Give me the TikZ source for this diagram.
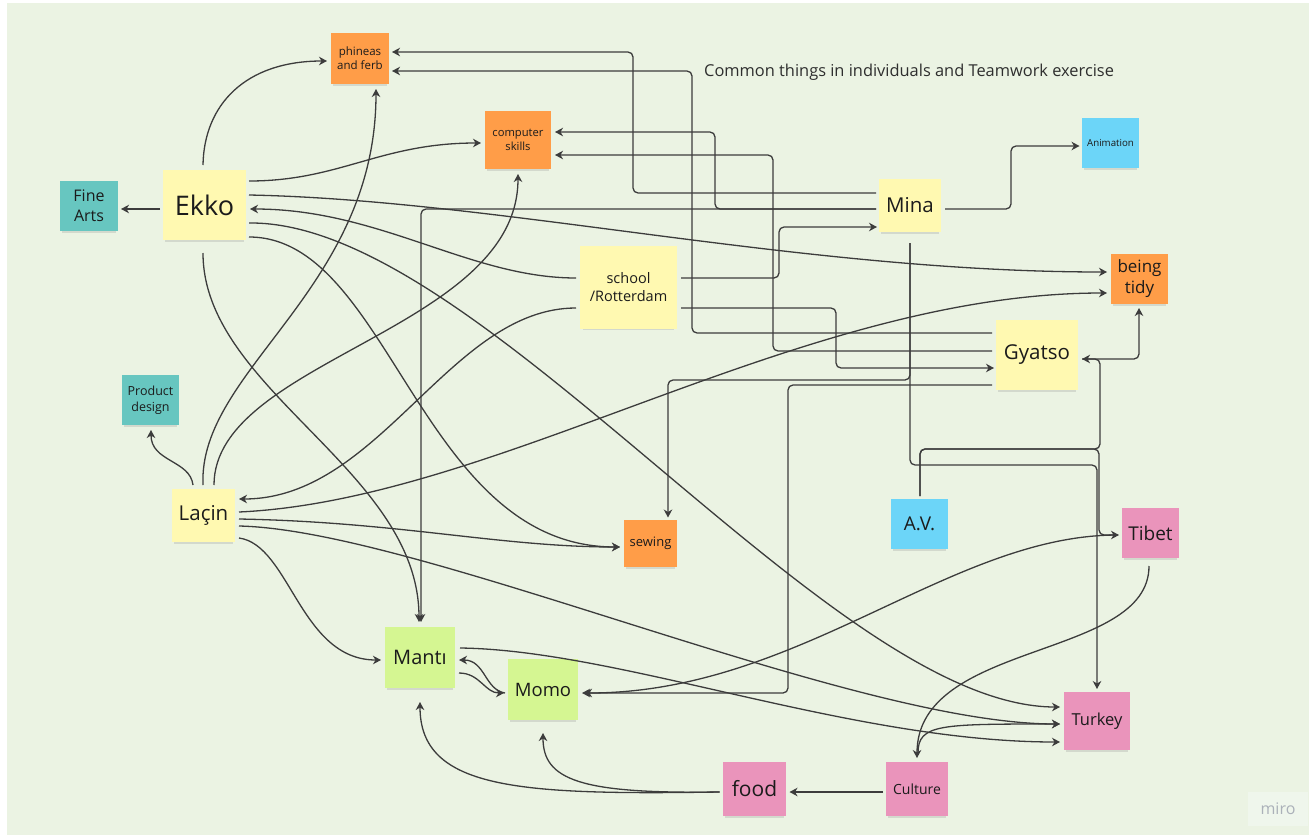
\documentclass[tikz,border=0pt]{standalone}
\usepackage{fontspec}
\setmainfont{Open Sans}
\usetikzlibrary{arrows.meta,calc,shadows}
\definecolor{bg}{HTML}{EBF3E3}
\definecolor{yel}{HTML}{FFF9B1}
\definecolor{ora}{HTML}{FF9D48}
\definecolor{teal}{HTML}{67C6C0}
\definecolor{blu}{HTML}{6CD5F8}
\definecolor{pnk}{HTML}{EA94BB}
\definecolor{lgr}{HTML}{D5F692}
\definecolor{txt}{HTML}{1B1B1B}
\definecolor{linec}{HTML}{3C3C3C}
\definecolor{titlec}{HTML}{2E2E2E}
\definecolor{logobg}{HTML}{EFF6EC}
\definecolor{logoc}{HTML}{ABB1B9}
\newcommand\fz[2]{\fontsize{#1}{#2}\selectfont}
\begin{document}
\begin{tikzpicture}[x=1pt,y=-1pt,
  note/.style={inner sep=0pt, outer sep=0pt, align=center, text=txt,
    drop shadow={shadow xshift=0pt, shadow yshift=-4pt, shadow scale=0.94, opacity=0.22}},
  con/.style={draw=linec, line width=1.3pt, -{Stealth[length=8pt,width=8.5pt,inset=2.5pt]}, rounded corners=5pt}]
\useasboundingbox (0,0) rectangle (1314,838);
\fill[white] (0,0) rectangle (1314,838);
\fill[bg] (7,3) rectangle (1309,835);

% notes
\node[note, fill=ora, minimum width=58, minimum height=51, font=\fz{11.5}{14}] (pf) at (360,58.5) {phineas\\and ferb};
\node[note, fill=ora, minimum width=66, minimum height=58, font=\fz{11.2}{13.5}] (cs) at (518,140) {computer\\skills};
\node[note, fill=yel, minimum width=83, minimum height=70, font=\fz{27}{32}] (ekko) at (204.5,205) {Ekko};
\node[note, fill=teal, minimum width=58, minimum height=50, font=\fz{16}{20}] (fine) at (89,206) {Fine\\Arts};
\node[note, fill=blu, minimum width=57, minimum height=50, font=\fz{9.7}{12}] (anim) at (1110.5,143) {Animation};
\node[note, fill=yel, minimum width=62, minimum height=53, font=\fz{20.5}{24}] (mina) at (910,205.5) {Mina};
\node[note, fill=yel, minimum width=97, minimum height=83, font=\fz{14.5}{18}] (school) at (628.5,287.5) {school\\/Rotterdam};
\node[note, fill=ora, minimum width=57, minimum height=50, font=\fz{17}{21}] (tidy) at (1139.5,279) {being\\tidy};
\node[note, fill=yel, minimum width=82, minimum height=70, font=\fz{20.5}{24}] (gyatso) at (1037,355) {Gyatso};
\node[note, fill=teal, minimum width=57, minimum height=50, font=\fz{12.5}{16}] (prod) at (150.5,400) {Product\\design};
\node[note, fill=yel, minimum width=63, minimum height=53, font=\fz{20.5}{24}] (lacin) at (203.5,515.5) {Laçin};
\node[note, fill=ora, minimum width=53, minimum height=47, font=\fz{13}{16}] (sewing) at (650.5,543.5) {sewing};
\node[note, fill=blu, minimum width=57, minimum height=50, font=\fz{19}{22}] (av) at (919.5,524) {A.V.};
\node[note, fill=pnk, minimum width=57, minimum height=50, font=\fz{19}{22}] (tibet) at (1150.5,533) {Tibet};
\node[note, fill=lgr, minimum width=70, minimum height=61, font=\fz{20}{24}] (manti) at (420,657.5) {Mantı};
\node[note, fill=lgr, minimum width=70, minimum height=61, font=\fz{18.5}{22}] (momo) at (543,689.5) {Momo};
\node[note, fill=pnk, minimum width=66, minimum height=58, font=\fz{16.5}{20}] (turkey) at (1097,721) {Turkey};
\node[note, fill=pnk, minimum width=63, minimum height=54, font=\fz{21}{25}] (food) at (754.5,789) {food};
\node[note, fill=pnk, minimum width=62, minimum height=54, font=\fz{14}{17}] (culture) at (917,789) {Culture};

\node[anchor=west, inner sep=0pt, text=titlec, font=\fz{16.4}{19}] (title) at (704,72.5) {Common things in individuals and Teamwork exercise};
\node[fill=logobg, text=logoc, inner sep=0pt, minimum width=60, minimum height=34, font=\fz{16}{19}] (logo) at (1278,809) {miro};

% curved connectors
\draw[con] ($(ekko)+(-44.5,4)$) -- ($(fine)+(32,3)$);
\draw[con] ($(ekko)+(-1.5,-40)$) .. controls (204,105) and (245,61) .. ($(pf)+(-33,2.5)$);
\draw[con] ($(lacin)+(-0.5,-30.5)$) .. controls (198,370) and (376,290) .. ($(pf)+(16,30.5)$);
\draw[con] ($(lacin)+(10.5,-30.5)$) .. controls (214,360) and (518,330) .. ($(cs)+(0,34)$);
\draw[con] ($(lacin)+(-10.5,-30.5)$) .. controls (190,460) and (151,462) .. ($(prod)+(0.5,30)$);
\draw[con] ($(ekko)+(44.5,-24)$) .. controls (340,181) and (380,143) .. ($(cs)+(-37,3)$);
\draw[con] ($(ekko)+(44.5,-10)$) .. controls (500,200) and (800,272) .. ($(tidy)+(-32.5,-7)$);
\draw[con] ($(school)+(-52.5,-9.5)$) .. controls (470,278) and (380,209) .. ($(ekko)+(45.5,4)$);
\draw[con] ($(ekko)+(44.5,18)$) .. controls (480,220) and (830,707) .. ($(turkey)+(-37,-14)$);
\draw[con] ($(ekko)+(44.5,32)$) .. controls (390,237) and (420,547) .. ($(sewing)+(-30.5,3.5)$);
\draw[con] ($(ekko)+(-1.5,48)$) .. controls (203,390) and (419,470) .. ($(manti)+(-1,-35.5)$);
\draw[con] ($(lacin)+(35.5,-3.5)$) .. controls (500,500) and (800,293) .. ($(tidy)+(-32.5,14)$);
\draw[con] ($(school)+(-52.5,20.5)$) .. controls (450,308) and (380,499) .. ($(lacin)+(35.5,-16.5)$);
\draw[con] ($(lacin)+(35.5,3.5)$) .. controls (400,522) and (500,547) .. ($(sewing)+(-30.5,3.5)$);
\draw[con] ($(lacin)+(35.5,10.5)$) .. controls (420,530) and (850,724) .. ($(turkey)+(-37,3)$);
\draw[con] ($(lacin)+(35.5,22.5)$) .. controls (290,545) and (300,660) .. ($(manti)+(-39,2.5)$);
\draw[con] ($(tibet)+(-33,2)$) .. controls (950,535) and (800,693) .. ($(momo)+(41,3.5)$);
\draw[con] ($(tibet)+(-1.5,33)$) .. controls (1149,660) and (917,640) .. ($(culture)+(0,-31)$);
\draw[con] ($(culture)+(1,-36)$) .. controls (918,724) and (940,724) .. ($(turkey)+(-37,3)$);
\draw[con] ($(manti)+(40,-9.5)$) .. controls (620,650) and (850,742) .. ($(turkey)+(-37,21)$);
\draw[con] ($(momo)+(-38,3.5)$) .. controls (485,690) and (485,660) .. ($(manti)+(39,2.5)$);
\draw[con] ($(manti)+(39,15.5)$) .. controls (480,673) and (485,693) .. ($(momo)+(-39,3.5)$);
\draw[con] ($(food)+(-35,3)$) .. controls (520,795) and (420,790) .. ($(manti)+(0,44.5)$);
\draw[con] ($(food)+(-35,3)$) .. controls (580,794) and (543,780) .. ($(momo)+(0,43.5)$);
\draw[con] ($(culture)+(-34,3)$) -- ($(food)+(35,3)$);

% orthogonal connectors
\draw[con] ($(mina)+(-34,-12.5)$) -- (633,193) -- (633,52) -- ($(pf)+(32,-6.5)$);
\draw[con] ($(mina)+(-34,3.5)$) -- (715,209) -- (715,132) -- ($(cs)+(37,-8)$);
\draw[con] ($(mina)+(-34,3.5)$) -- (421,209) -- ($(manti)+(1,-35.5)$);
\draw[con] ($(school)+(52.5,-9.5)$) -- (779,278) -- (779,227) -- ($(mina)+(-33,21.5)$);
\draw[con] ($(gyatso)+(-45,-22)$) -- (692,333) -- (692,71) -- ($(pf)+(32,12.5)$);
\draw[con] ($(gyatso)+(-45,-4)$) -- (773,351) -- (773,155) -- ($(cs)+(37,15)$);
\draw[con] ($(school)+(52.5,20.5)$) -- (836,308) -- (836,368) -- ($(gyatso)+(-43,13)$);
\draw[con] ($(gyatso)+(-45,30)$) -- (788,385) -- (788,693) -- ($(momo)+(39,3.5)$);
\draw[con] ($(mina)+(0,37.5)$) -- (910,380) -- (668,380) -- ($(sewing)+(17.5,-26)$);
\draw[con] ($(mina)+(0,37.5)$) -- (910,465) -- (1097,465) -- ($(turkey)+(0,-32)$);
\draw[con] ($(mina)+(35,3.5)$) -- (1011,209) -- (1011,146) -- ($(anim)+(-31,3)$);
\draw[con] ($(gyatso)+(45,4)$) -- (1139,359) -- ($(tidy)+(-0.5,29)$);
\draw[con] ($(av)+(0.5,-28)$) -- (920,449) -- (1100,449) -- (1100,359) -- ($(gyatso)+(45,4)$);
\draw[con] ($(av)+(0.5,-28)$) -- (920,449) -- (1099,449) -- (1099,535) -- ($(tibet)+(-31.5,2)$);
\end{tikzpicture}
\end{document}
